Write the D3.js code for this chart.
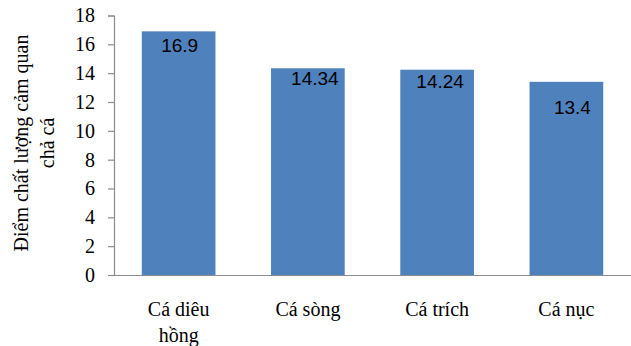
<!DOCTYPE html>
<html>
<head>
<meta charset="utf-8">
<script src="https://cdn.jsdelivr.net/npm/d3@7"></script>
<style>
  html, body { margin: 0; padding: 0; background: #fff; }
  svg { display: block; }
</style>
</head>
<body>
<svg id="chart" width="631" height="346"></svg>
<script>
// Sensory quality scores of fish cakes by fish species
const categories = [["Cá diêu", "hồng"], ["Cá sòng"], ["Cá trích"], ["Cá nục"]];
const scores = [16.9, 14.34, 14.24, 13.4];
const valueLabels = ["16.9", "14.34", "14.24", "13.4"];
const yTicks = [0, 2, 4, 6, 8, 10, 12, 14, 16, 18];
const yTitle = ["Điểm chất lượng cảm quan", "chả cá"];

// Small per-label placement tweaks inside the bars (dx, dy from bar top)
const labelNudge = [[1, 21], [7, 17], [3, 18], [6, 32]];

const svg = d3.select("#chart");
const margin = { left: 114, right: 0, top: 15.5, bottom: 71 };
const W = 631, H = 346;
const serif = "'Liberation Serif', 'Times New Roman', serif";

const x = d3.scaleBand()
  .domain(d3.range(categories.length))
  .range([margin.left, W - margin.right])
  .paddingInner(0.43)
  .paddingOuter(0.215);

const y = d3.scaleLinear()
  .domain([0, 18])
  .range([H - margin.bottom, margin.top]);

const axisColor = "#8c8c8c";

// Bars
svg.append("g").selectAll("rect")
  .data(scores)
  .join("rect")
  .attr("x", (d, i) => x(i))
  .attr("width", x.bandwidth())
  .attr("y", d => y(d))
  .attr("height", d => y(0) - y(d))
  .attr("fill", "#4f81bd");

// Y axis
const yAxis = svg.append("g")
  .attr("transform", `translate(${margin.left},0)`)
  .call(d3.axisLeft(y).tickValues(yTicks).tickSize(6).tickPadding(13).tickFormat(d3.format("d")));
yAxis.select(".domain").attr("stroke", axisColor).attr("stroke-width", 1.2);
yAxis.selectAll(".tick line").attr("stroke", axisColor).attr("stroke-width", 1.2);
yAxis.selectAll(".tick text")
  .attr("font-family", serif)
  .attr("font-size", 20)
  .attr("fill", "#000");

// X axis baseline
const xAxis = svg.append("g")
  .attr("transform", `translate(0,${y(0)})`)
  .call(d3.axisBottom(x).tickSize(0).tickFormat(""));
xAxis.select(".domain").attr("stroke", axisColor).attr("stroke-width", 1.2);

// Category labels (may wrap over two lines)
svg.append("g").selectAll("text")
  .data(categories)
  .join("text")
  .attr("x", (d, i) => x(i) + x.bandwidth() / 2)
  .attr("y", 316)
  .attr("text-anchor", "middle")
  .attr("font-family", serif)
  .attr("font-size", 20)
  .attr("fill", "#000")
  .each(function (lines) {
    d3.select(this).selectAll("tspan")
      .data(lines)
      .join("tspan")
      .attr("x", d3.select(this).attr("x"))
      .attr("dy", (d, j) => j === 0 ? 0 : 25.5)
      .text(d => d);
  });

// Value labels inside the bars
svg.append("g").selectAll("text")
  .data(scores)
  .join("text")
  .attr("x", (d, i) => x(i) + x.bandwidth() / 2 + labelNudge[i][0])
  .attr("y", (d, i) => y(d) + labelNudge[i][1])
  .attr("text-anchor", "middle")
  .attr("font-family", "'Liberation Sans', Arial, sans-serif")
  .attr("font-size", 19)
  .attr("fill", "#000")
  .text((d, i) => valueLabels[i]);

// Rotated y-axis title
const titleG = svg.append("g")
  .attr("transform", "translate(28,143) rotate(-90)");
titleG.selectAll("text")
  .data(yTitle)
  .join("text")
  .attr("x", 0)
  .attr("y", (d, i) => i * 25.5)
  .attr("text-anchor", "middle")
  .attr("font-family", serif)
  .attr("font-size", 20)
  .attr("fill", "#000")
  .text(d => d);
</script>
</body>
</html>
